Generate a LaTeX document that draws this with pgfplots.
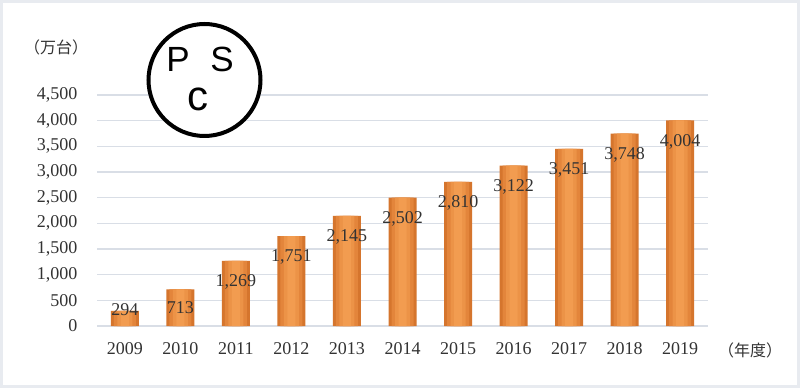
\documentclass[border=0pt]{standalone}
\usepackage{pgfplots}
\pgfplotsset{compat=1.18}
\usepackage{fontspec}
\setmainfont{Liberation Serif}
\newfontfamily\cjk{Noto Sans CJK JP}
\newfontfamily\logofont{Liberation Sans}
\definecolor{gridc}{HTML}{D9DEE6}
\definecolor{bar1}{HTML}{D5752D}
\definecolor{bar2}{HTML}{E3853B}
\definecolor{bar3}{HTML}{EC9347}
\definecolor{bar4}{HTML}{F29C50}
\definecolor{txt}{HTML}{333333}
\pgfplotstableread{
x y
0 294
1 713
2 1269
3 1751
4 2145
5 2502
6 2810
7 3122
8 3451
9 3748
10 4004
}\bardata
\pgfplotstableread{
x y v
0 320 294
1 350 713
2 860 1269
3 1342 1751
4 1736 2145
5 2093 2502
6 2401 2810
7 2713 3122
8 3042 3451
9 3339 3748
10 3595 4004
}\labeldata
\begin{document}
\begin{tikzpicture}[x=1pt,y=1pt]
\useasboundingbox (0pt,0pt) rectangle (800pt,388pt);
\fill[white] (0pt,0pt) rectangle (800pt,388pt);
\draw[color=gridc!60, line width=3pt] (1.5pt,1.5pt) rectangle (798.5pt,386.5pt);
\begin{axis}[
  at={(97pt,62pt)}, anchor=south west,
  scale only axis, width=611pt, height=231pt,
  xmin=-0.5, xmax=10.5, ymin=0, ymax=4500,
  ytick={0,500,...,4500},
  xtick={0,...,10},
  xticklabels={2009,2010,2011,2012,2013,2014,2015,2016,2017,2018,2019},
  axis line style={draw=none},
  major tick length=0pt,
  ymajorgrids, grid style={gridc, line width=1.3pt},
  /pgf/number format/.cd, 1000 sep={,}, assume math mode=true,
  /pgfplots/.cd,
  ticklabel style={font=\fontsize{18}{18}\selectfont, text=txt},
  yticklabel style={xshift=-16pt},
  xticklabel style={yshift=-13pt},
  clip=false,
]
\addplot[ybar, bar width=28pt, bar shift=0pt, draw=none, fill=bar1]
  table[x=x,y=y]{\bardata};
\addplot[ybar, bar width=22pt, bar shift=0pt, draw=none, fill=bar2]
  table[x=x,y=y]{\bardata};
\addplot[ybar, bar width=15pt, bar shift=0pt, draw=none, fill=bar3]
  table[x=x,y=y]{\bardata};
\addplot[ybar, bar width=8pt, bar shift=0pt, draw=none, fill=bar4]
  table[x=x,y=y]{\bardata};
\addplot[draw=none, mark=none, point meta=explicit,
  nodes near coords={\pgfmathprintnumber[1000 sep={,}, assume math mode=true]{\pgfplotspointmeta}},
  every node near coord/.style={anchor=center, font=\fontsize{18}{18}\selectfont, text=txt}]
  table[x=x,y=y,meta=v]{\labeldata};
\end{axis}
\draw[line width=4pt, fill=white] (204.5pt,308pt) circle (56pt);
\node[font=\logofont\fontsize{35}{35}\selectfont] at (178pt,329pt) {P};
\node[font=\logofont\fontsize{35}{35}\selectfont] at (222pt,329pt) {S};
\node[font=\logofont\fontsize{42}{42}\selectfont] at (198pt,289pt) {c};
\node[font=\cjk\fontsize{16}{16}\selectfont, text=txt] at (56pt,341pt) {（万台）};
\node[font=\cjk\fontsize{16}{16}\selectfont, text=txt] at (750pt,38pt) {（年度）};
\end{tikzpicture}
\end{document}
